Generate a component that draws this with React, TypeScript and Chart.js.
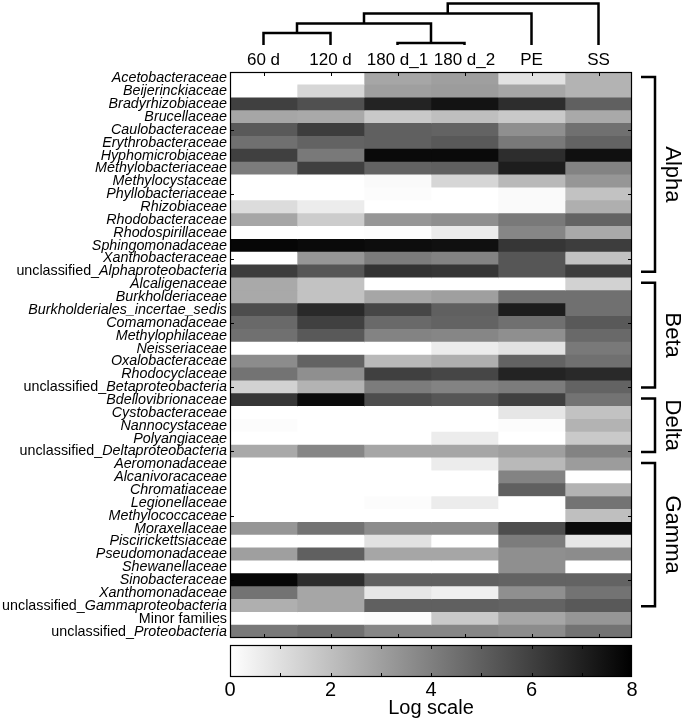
import React, { useEffect, useRef } from 'react';
import { Chart, registerables } from 'chart.js';

Chart.register(...registerables);

const FONT = "'Liberation Sans', Arial, Helvetica, sans-serif";

// Sample columns (heatmap x categories)
const columns = ['60 d', '120 d', '180 d_1', '180 d_2', 'PE', 'SS'];

// Row categories (families)
const families = [
  'Acetobacteraceae', 'Beijerinckiaceae', 'Bradyrhizobiaceae', 'Brucellaceae', 'Caulobacteraceae',
  'Erythrobacteraceae', 'Hyphomicrobiaceae', 'Methylobacteriaceae', 'Methylocystaceae', 'Phyllobacteriaceae',
  'Rhizobiaceae', 'Rhodobacteraceae', 'Rhodospirillaceae', 'Sphingomonadaceae', 'Xanthobacteraceae',
  'unclassified_Alphaproteobacteria',
  'Alcaligenaceae', 'Burkholderiaceae', 'Burkholderiales_incertae_sedis', 'Comamonadaceae', 'Methylophilaceae',
  'Neisseriaceae', 'Oxalobacteraceae', 'Rhodocyclaceae', 'unclassified_Betaproteobacteria',
  'Bdellovibrionaceae', 'Cystobacteraceae', 'Nannocystaceae', 'Polyangiaceae', 'unclassified_Deltaproteobacteria',
  'Aeromonadaceae', 'Alcanivoracaceae', 'Chromatiaceae', 'Legionellaceae', 'Methylococcaceae', 'Moraxellaceae',
  'Piscirickettsiaceae', 'Pseudomonadaceae', 'Shewanellaceae', 'Sinobacteraceae', 'Xanthomonadaceae',
  'unclassified_Gammaproteobacteria',
  'Minor families', 'unclassified_Proteobacteria',
];

// Log-scale abundance per column (one value per family, top to bottom)
const v60d = [0, 0, 6.0, 2.8, 5.2, 4.5, 6.0, 4.1, 0, 0, 1.1, 2.8, 0, 7.8, 0, 6.1,
  2.7, 2.7, 5.6, 4.7, 4.5, 0, 3.6, 4.4, 1.4,
  6.3, 0, 0.1, 0, 2.7,
  0, 0, 0, 0, 0, 3.3, 0, 3.0, 0, 7.8, 4.4, 2.5,
  0, 4.2];
const v120d = [0, 1.3, 5.5, 2.7, 6.1, 4.9, 4.2, 6.0, 0, 0, 0.6, 1.6, 0, 7.7, 3.3, 5.3,
  1.9, 1.9, 6.7, 6.0, 5.2, 0, 4.9, 3.5, 2.4,
  7.7, 0, 0, 0, 3.8,
  0, 0, 0, 0, 0, 4.4, 0, 5.0, 0, 6.6, 2.8, 2.8,
  0, 4.5];
const v180d1 = [2.8, 3.0, 6.9, 1.7, 5.0, 5.0, 7.7, 4.9, 0.15, 0.1, 0, 3.3, 0.05, 7.6, 4.1, 6.4,
  0, 2.8, 5.8, 4.7, 3.9, 0, 2.2, 6.0, 4.1,
  5.6, 0, 0, 0, 2.8,
  0, 0, 0, 0.1, 0, 3.6, 0.9, 2.8, 0, 5.0, 0.8, 5.0,
  0.1, 3.8];
const v180d2 = [3.0, 3.1, 7.4, 2.0, 4.9, 5.2, 7.7, 5.0, 1.3, 0, 0, 3.5, 0.6, 7.5, 3.9, 6.3,
  0, 3.0, 5.0, 4.9, 3.8, 0.6, 2.5, 5.8, 3.9,
  5.3, 0, 0, 0.6, 2.8,
  0.6, 0, 0, 0.6, 0, 3.6, 0, 2.8, 0, 5.0, 0.5, 5.0,
  1.7, 3.8];
const vPE = [0.9, 2.8, 6.6, 1.7, 3.5, 4.2, 6.6, 7.1, 2.2, 0.15, 0.15, 4.2, 3.8, 6.3, 5.3, 5.3,
  0, 4.5, 7.1, 4.5, 3.5, 0.9, 4.9, 6.9, 4.1,
  6.0, 0.8, 0.1, 0, 3.0,
  2.2, 3.9, 5.0, 0, 0, 5.6, 4.1, 3.5, 3.5, 4.9, 3.5, 4.9,
  2.8, 3.6];
const vSS = [2.4, 2.4, 5.0, 2.7, 4.5, 4.9, 7.5, 3.9, 3.3, 1.9, 2.5, 4.9, 2.7, 6.1, 1.9, 6.1,
  1.4, 4.5, 4.5, 5.2, 4.7, 4.2, 4.5, 6.7, 4.9,
  4.4, 1.9, 2.4, 1.7, 3.9,
  3.1, 0, 2.4, 4.4, 2.0, 7.7, 0.8, 3.6, 0, 4.9, 4.4, 5.2,
  3.3, 4.4];

// Taxonomic class groups (first/last family index)
const groupNames = ['Alpha', 'Beta', 'Delta', 'Gamma'];
const groupFirst = [0, 16, 25, 30];
const groupLast = [15, 24, 29, 41];

// Row ticks (1-based row numbers)
const rowTicks = [5, 10, 15, 20, 25, 30, 35, 40];

// Dendrogram merges over columns: node ids 0-5 are columns, 6+ are merges
const mergeA = [0, 2, 6, 8, 9];
const mergeB = [1, 3, 7, 4, 5];
const mergeHeight = [1.0, 0.0, 1.95, 2.95, 3.95];

// Colour bar
const colorbarLabels = [0, 2, 4, 6, 8];
const colorbarMinor = [1, 2, 3, 4, 5, 6, 7];

const columnValues = [v60d, v120d, v180d1, v180d2, vPE, vSS];

function grayFor(v: number): string {
  const g = Math.round(255 * (1 - Math.max(0, Math.min(8, v)) / 8));
  return `rgb(${g},${g},${g})`;
}

const heatmapDecor = {
  id: 'heatmapDecor',
  afterDraw(chart: any) {
    const { ctx, chartArea: a, scales } = chart;
    const x = scales.x;
    const y = scales.y;
    const rowH = y.getPixelForValue(1) - y.getPixelForValue(0);
    ctx.save();

    // frame
    ctx.strokeStyle = '#000';
    ctx.lineWidth = 1.2;
    ctx.strokeRect(a.left + 0.5, a.top + 0.5, a.width - 1, a.height - 1);

    // inner tick marks
    ctx.lineWidth = 1;
    ctx.beginPath();
    columns.forEach((_, c) => {
      const px = Math.round(x.getPixelForValue(c)) + 0.5;
      ctx.moveTo(px, a.top);
      ctx.lineTo(px, a.top + 4);
      ctx.moveTo(px, a.bottom);
      ctx.lineTo(px, a.bottom - 4);
    });
    rowTicks.forEach((r) => {
      const py = Math.round(y.getPixelForValue(r - 1)) + 0.5;
      ctx.moveTo(a.left, py);
      ctx.lineTo(a.left + 4, py);
      ctx.moveTo(a.right, py);
      ctx.lineTo(a.right - 4, py);
    });
    ctx.stroke();

    // row labels (mixed italic / upright)
    ctx.fillStyle = '#000';
    ctx.textBaseline = 'middle';
    ctx.textAlign = 'right';
    const italic = `italic 14.3px ${FONT}`;
    const upright = `14.3px ${FONT}`;
    const rightX = a.left - 3;
    families.forEach((name, i) => {
      const py = y.getPixelForValue(i);
      if (name.startsWith('unclassified_')) {
        const rest = name.slice('unclassified_'.length);
        ctx.font = italic;
        const w = ctx.measureText(rest).width;
        ctx.fillText(rest, rightX, py);
        ctx.font = upright;
        ctx.fillText('unclassified_', rightX - w, py);
      } else if (name === 'Minor families') {
        ctx.font = upright;
        ctx.fillText(name, rightX, py);
      } else {
        ctx.font = italic;
        ctx.fillText(name, rightX, py);
      }
    });

    // dendrogram
    const nodeX: number[] = columns.map((_, c) => x.getPixelForValue(c));
    const leafY = 45;
    const nodeY: number[] = columns.map(() => leafY);
    const hToY = (h: number) => 43 - 10 * h;
    ctx.lineWidth = 2.5;
    ctx.lineJoin = 'miter';
    ctx.lineCap = 'butt';
    mergeA.forEach((na, k) => {
      const nb = mergeB[k];
      const yy = hToY(mergeHeight[k]);
      ctx.beginPath();
      ctx.moveTo(nodeX[na], nodeY[na]);
      ctx.lineTo(nodeX[na], yy);
      ctx.lineTo(nodeX[nb], yy);
      ctx.lineTo(nodeX[nb], nodeY[nb]);
      ctx.stroke();
      nodeX.push((nodeX[na] + nodeX[nb]) / 2);
      nodeY.push(yy);
    });

    // class brackets
    ctx.lineWidth = 2.5;
    const bx0 = a.right + 9;
    const bx1 = a.right + 23;
    groupNames.forEach((g, k) => {
      const top = y.getPixelForValue(groupFirst[k]) - rowH / 2 + 5;
      const bot = y.getPixelForValue(groupLast[k]) + rowH / 2 - 6;
      ctx.beginPath();
      ctx.moveTo(bx0, top);
      ctx.lineTo(bx1, top);
      ctx.lineTo(bx1, bot);
      ctx.lineTo(bx0, bot);
      ctx.stroke();
      ctx.save();
      ctx.translate(a.right + 40, (top + bot) / 2);
      ctx.rotate(Math.PI / 2);
      ctx.font = `22px ${FONT}`;
      ctx.textAlign = 'center';
      ctx.textBaseline = 'middle';
      ctx.fillText(g, 0, 0);
      ctx.restore();
    });

    ctx.restore();
  },
};

const colorbarDecor = {
  id: 'colorbarDecor',
  afterDraw(chart: any) {
    const { ctx, chartArea: a, scales } = chart;
    const x = scales.x;
    ctx.save();
    ctx.strokeStyle = '#000';
    ctx.lineWidth = 1.2;
    ctx.strokeRect(a.left + 0.5, a.top + 0.5, a.width - 1, a.height - 1);
    ctx.lineWidth = 1;
    ctx.beginPath();
    colorbarMinor.forEach((v) => {
      const px = Math.round(x.getPixelForValue(v)) + 0.5;
      ctx.moveTo(px, a.top);
      ctx.lineTo(px, a.top + 4);
      ctx.moveTo(px, a.bottom);
      ctx.lineTo(px, a.bottom - 4);
    });
    ctx.stroke();
    ctx.restore();
  },
};

export default function App() {
  const mainRef = useRef<HTMLCanvasElement>(null);
  const barRef = useRef<HTMLCanvasElement>(null);

  useEffect(() => {
    if (!mainRef.current || !barRef.current) return;

    const datasets = columnValues.map((vals, c) => ({
      label: columns[c],
      data: vals.map(() => [c - 0.5, c + 0.5]),
      backgroundColor: vals.map(grayFor),
      borderWidth: 0,
      grouped: false,
      barPercentage: 1,
      categoryPercentage: 1,
    }));

    const main = new Chart(mainRef.current, {
      type: 'bar',
      data: { labels: families, datasets: datasets as any },
      options: {
        indexAxis: 'y',
        responsive: false,
        animation: false,
        events: [],
        layout: { padding: { top: 0, right: 53, bottom: 2, left: 0 } },
        plugins: { legend: { display: false }, tooltip: { enabled: false } },
        scales: {
          x: {
            type: 'linear',
            position: 'top',
            min: -0.5,
            max: 5.5,
            afterBuildTicks: (s: any) => {
              s.ticks = columns.map((_, i) => ({ value: i }));
            },
            ticks: {
              autoSkip: false,
              maxRotation: 0,
              padding: 1,
              color: '#000',
              font: { family: FONT, size: 17 },
              callback: (v: any) => columns[v as number] ?? '',
            },
            grid: { display: false, drawTicks: false },
            border: { display: false },
            afterFit: (s: any) => {
              s.height = 72;
            },
          },
          y: {
            type: 'category',
            ticks: { display: false },
            grid: { display: false, drawTicks: false },
            border: { display: false },
            afterFit: (s: any) => {
              s.width = 230;
            },
          },
        },
      } as any,
      plugins: [heatmapDecor],
    });

    const bar = new Chart(barRef.current, {
      type: 'bar',
      data: {
        labels: ['Log scale'],
        datasets: [
          {
            data: [[0, 8]] as any,
            backgroundColor: (context: any) => {
              const chart = context.chart;
              const area = chart.chartArea;
              if (!area) return '#888';
              const g = chart.ctx.createLinearGradient(area.left, 0, area.right, 0);
              g.addColorStop(0, '#ffffff');
              g.addColorStop(1, '#000000');
              return g;
            },
            borderWidth: 0,
            barPercentage: 1,
            categoryPercentage: 1,
          },
        ],
      },
      options: {
        indexAxis: 'y',
        responsive: false,
        animation: false,
        events: [],
        layout: { padding: { top: 5, right: 53, bottom: 0, left: 0 } },
        plugins: { legend: { display: false }, tooltip: { enabled: false } },
        scales: {
          x: {
            type: 'linear',
            min: 0,
            max: 8,
            afterBuildTicks: (s: any) => {
              s.ticks = colorbarLabels.map((v) => ({ value: v }));
            },
            ticks: { padding: 1, color: '#000', font: { family: FONT, size: 20 } },
            grid: { display: false, drawTicks: false },
            border: { display: false },
            title: {
              display: true,
              text: 'Log scale',
              color: '#000',
              font: { family: FONT, size: 20 },
              padding: { top: 0, bottom: 2 },
            },
            afterFit: (s: any) => {
              s.height = 45;
            },
          },
          y: {
            ticks: { display: false },
            grid: { display: false, drawTicks: false },
            border: { display: false },
            afterFit: (s: any) => {
              s.width = 230;
            },
          },
        },
      } as any,
      plugins: [colorbarDecor],
    });

    return () => {
      main.destroy();
      bar.destroy();
    };
  }, []);

  return (
    <div style={{ position: 'fixed', left: 0, top: 0, width: 685, height: 722, background: '#fff', overflow: 'hidden' }}>
      <canvas ref={mainRef} width={685} height={640} style={{ position: 'absolute', left: 0, top: 0, display: 'block' }} />
      <canvas ref={barRef} width={685} height={82} style={{ position: 'absolute', left: 0, top: 640, display: 'block' }} />
    </div>
  );
}
